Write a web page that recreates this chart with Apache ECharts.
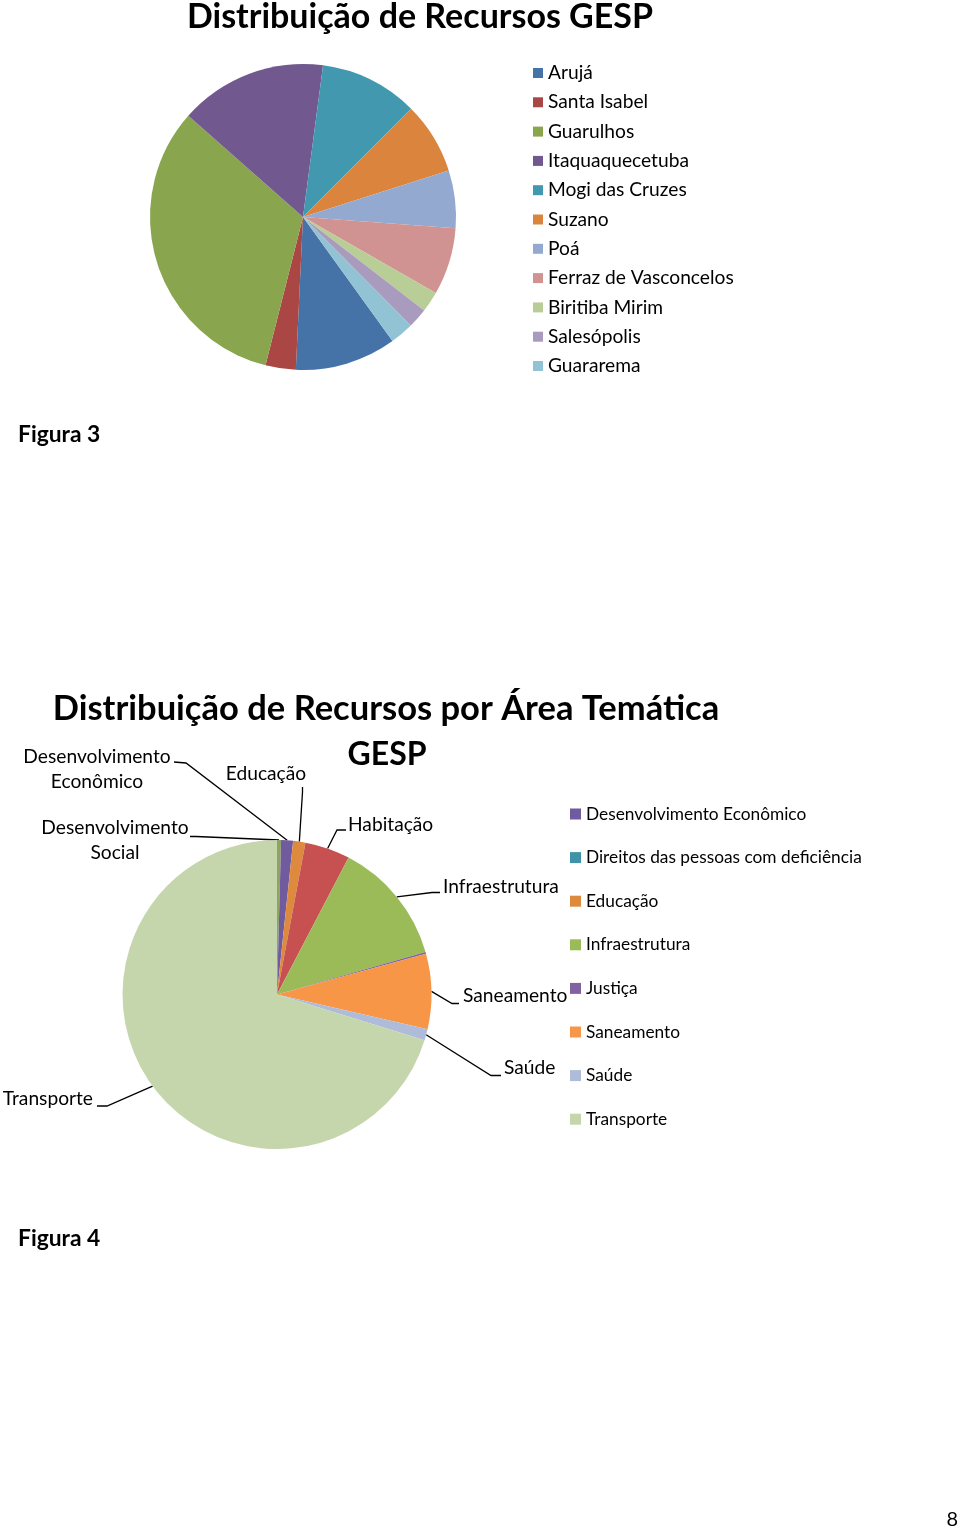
<!DOCTYPE html>
<html>
<head>
<meta charset="utf-8">
<title>Distribuição de Recursos GESP</title>
<script src="https://cdn.jsdelivr.net/npm/echarts@6/dist/echarts.min.js"></script>
<style>
  html, body { margin: 0; padding: 0; background: #fff; }
  #chart { width: 960px; height: 1530px; }
</style>
</head>
<body>
<div id="chart"></div>
<script>
const FONT = 'Lato';

// Figura 3 - recursos por município (% do total)
const municipios = ['Arujá', 'Santa Isabel', 'Guarulhos', 'Itaquaquecetuba', 'Mogi das Cruzes', 'Suzano', 'Poá', 'Ferraz de Vasconcelos', 'Biritiba Mirim', 'Salesópolis', 'Guararema'];
const valoresMunicipios = [10.7, 3.2, 32.6, 15.6, 10.4, 7.6, 6.1, 7.1, 2.2, 2.1, 2.5];
const coresMunicipios = ['#4572A7', '#AA4643', '#89A54E', '#71588F', '#4198AF', '#DB843D', '#93A9CF', '#D19392', '#B9CD96', '#A99BBD', '#92C3D4'];

// Figura 4 - recursos por área temática (% do total)
const areas = ['Desenvolvimento Social', 'Desenvolvimento Econômico', 'Direitos das pessoas com deficiência', 'Educação', 'Habitação', 'Infraestrutura', 'Justiça', 'Saneamento', 'Saúde', 'Transporte'];
const valoresAreas = [0.42, 1.25, 0, 1.28, 4.72, 12.9, 0.17, 7.86, 1.19, 70.2];
const coresAreas = ['#8FA461', '#6F5B9E', '#3F92A8', '#DE8A3E', '#C65150', '#9BBB59', '#8064A2', '#F79646', '#AEBCDA', '#C6D6AC'];
// só estas entradas aparecem na legenda original
const legendaAreas = ['Desenvolvimento Econômico', 'Direitos das pessoas com deficiência', 'Educação', 'Infraestrutura', 'Justiça', 'Saneamento', 'Saúde', 'Transporte'];

// posição dos rótulos e das linhas de chamada (como no Excel)
const rotulos = {
  'Desenvolvimento Social':    { x: 115, y: 840, align: 'center', elbow: [196, 836.5], end: [190, 836.5] },
  'Desenvolvimento Econômico': { x: 97,  y: 769, align: 'center', elbow: [186, 763], end: [174, 762] },
  'Educação':                  { x: 266, y: 774, align: 'center', elbow: [302.5, 792], end: [302.5, 787] },
  'Habitação':                 { x: 348, y: 825, align: 'left',   elbow: [337, 830], end: [346, 830] },
  'Infraestrutura':            { x: 443, y: 887, align: 'left',   elbow: [432, 892.5], end: [440, 892.5] },
  'Saneamento':                { x: 463, y: 996, align: 'left',   elbow: [452, 1003.5], end: [459, 1003.5] },
  'Saúde':                     { x: 504, y: 1068, align: 'left',  elbow: [491, 1075.5], end: [501, 1075.5] },
  'Transporte':                { x: 93,  y: 1099, align: 'right', elbow: [107, 1106], end: [97, 1106] }
};

const chart = echarts.init(document.getElementById('chart'));

const dadosMunicipios = municipios.map((name, i) => ({
  name,
  value: valoresMunicipios[i],
  itemStyle: { color: coresMunicipios[i] }
}));

const dadosAreas = areas.map((name, i) => ({
  name,
  value: valoresAreas[i],
  itemStyle: { color: coresAreas[i] },
  label: { show: !!rotulos[name] },
  labelLine: { show: !!rotulos[name] }
}));

const legendaBase = {
  orient: 'vertical',
  icon: 'rect',
  selectedMode: false,
  padding: 0
};

const option = {
  animation: false,
  backgroundColor: '#fff',
  textStyle: { fontFamily: FONT },
  legend: [
    Object.assign({}, legendaBase, {
      data: municipios,
      left: 533,
      top: 63,
      itemWidth: 10,
      itemHeight: 10,
      itemGap: 9.3,
      textStyle: { fontFamily: FONT, color: '#000', fontSize: 19.2, lineHeight: 20 }
    }),
    Object.assign({}, legendaBase, {
      data: legendaAreas,
      left: 570,
      top: 804,
      itemWidth: 11,
      itemHeight: 11,
      itemGap: 23.6,
      textStyle: { fontFamily: FONT, color: '#000', fontSize: 17.3, lineHeight: 20 }
    })
  ],
  series: [
    {
      type: 'pie',
      center: [303, 217],
      radius: 153,
      startAngle: -54.2,
      clockwise: true,
      avoidLabelOverlap: false,
      label: { show: false },
      labelLine: { show: false },
      itemStyle: { borderWidth: 0 },
      emphasis: { disabled: true },
      data: dadosMunicipios
    },
    {
      type: 'pie',
      center: [277, 994.5],
      radius: 154.5,
      startAngle: 90,
      clockwise: true,
      avoidLabelOverlap: false,
      itemStyle: { borderWidth: 0 },
      emphasis: { disabled: true },
      label: {
        fontFamily: FONT,
        fontSize: 19.2,
        lineHeight: 25,
        color: '#000',
        formatter: p => p.name.startsWith('Desenvolvimento ') ? p.name.replace(' ', '\n') : p.name
      },
      labelLine: { lineStyle: { color: '#000', width: 1.3 } },
      labelLayout: function (params) {
        const r = rotulos[areas[params.dataIndex]];
        if (!r || !params.labelLinePoints) return {};
        const p0 = params.labelLinePoints[0];
        return {
          x: r.x,
          y: r.y,
          align: r.align,
          verticalAlign: 'middle',
          labelLinePoints: [p0, r.elbow, r.end]
        };
      },
      data: dadosAreas
    }
  ],
  graphic: [
    { type: 'text', x: 420, y: 17, style: { text: 'Distribuição de Recursos GESP', font: 'bold 34px ' + FONT, fill: '#000', textAlign: 'center', textVerticalAlign: 'middle' } },
    { type: 'text', x: 18, y: 435, style: { text: 'Figura 3', font: 'bold 22.8px ' + FONT, fill: '#000', textAlign: 'left', textVerticalAlign: 'middle' } },
    { type: 'text', x: 386, y: 709, style: { text: 'Distribuição de Recursos por Área Temática', font: 'bold 34.5px ' + FONT, fill: '#000', textAlign: 'center', textVerticalAlign: 'middle' } },
    { type: 'text', x: 387, y: 755, style: { text: 'GESP', font: 'bold 32px ' + FONT, fill: '#000', textAlign: 'center', textVerticalAlign: 'middle' } },
    { type: 'text', x: 18, y: 1239, style: { text: 'Figura 4', font: 'bold 22.8px ' + FONT, fill: '#000', textAlign: 'left', textVerticalAlign: 'middle' } },
    { type: 'text', x: 958, y: 1520, style: { text: '8', font: '20px ' + FONT, fill: '#000', textAlign: 'right', textVerticalAlign: 'middle' } }
  ]
};

chart.setOption(option);
window.addEventListener('resize', () => chart.resize());
</script>
</body>
</html>
